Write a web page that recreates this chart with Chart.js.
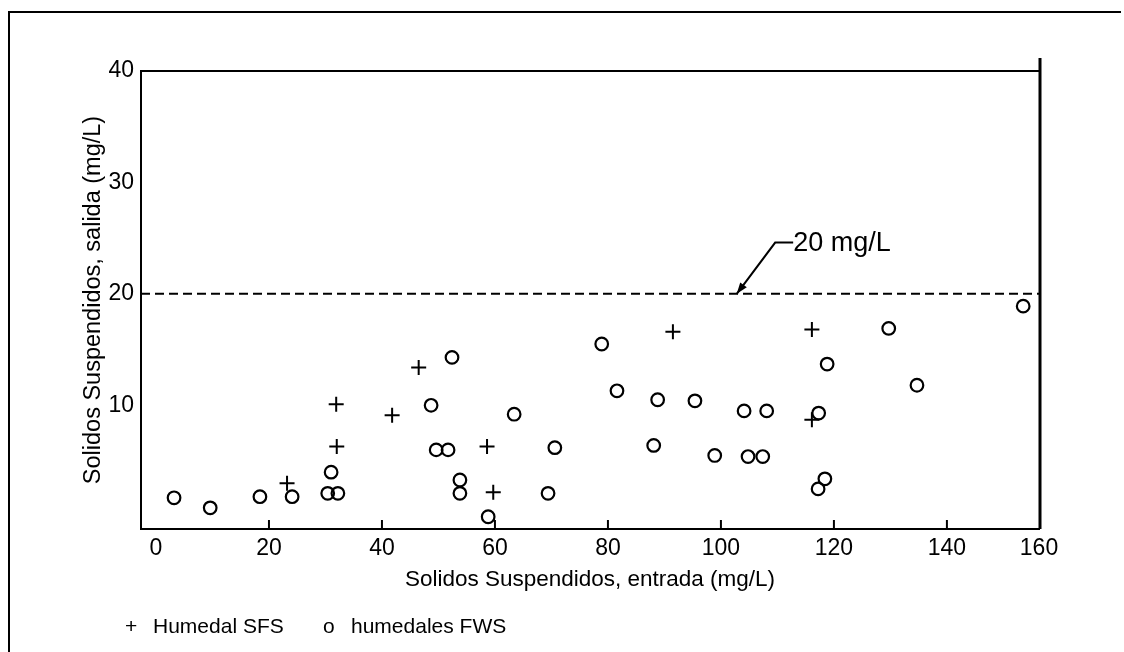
<!DOCTYPE html>
<html>
<head>
<meta charset="utf-8">
<script src="https://cdn.jsdelivr.net/npm/chart.js@4.4.1/dist/chart.umd.min.js"></script>
<style>
  html, body { margin: 0; padding: 0; background: #fff; }
  #wrap { width: 1124px; height: 652px; }
</style>
</head>
<body>
<div id="wrap"><canvas id="chart" width="1124" height="652"></canvas></div>
<script>
// Humedal SFS (cruces): entrada / salida, mg/L
const sfsIn  = [23.2, 31.9, 32.0, 41.8, 46.5, 58.6, 59.7, 91.5, 116.1, 116.1];
const sfsOut = [3.0, 10.1, 6.3, 9.1, 13.4, 6.3, 2.2, 16.6, 16.8, 8.7];

// humedales FWS (circulos)
const fwsIn  = [3.2, 9.6, 18.4, 24.1, 31.0, 30.4, 32.2, 52.4, 48.7, 49.6, 51.7, 53.8, 53.8,
                63.4, 58.8, 69.4, 70.6, 78.9, 81.6, 88.8, 88.1, 95.4, 98.9, 104.1, 104.8,
                107.4, 108.1, 118.8, 129.7, 134.7, 153.5, 117.3, 118.4, 117.2];
const fwsOut = [1.7, 0.8, 1.8, 1.8, 4.0, 2.1, 2.1, 14.3, 10.0, 6.0, 6.0, 3.3, 2.1,
                9.2, 0.0, 2.1, 6.2, 15.5, 11.3, 10.5, 6.4, 10.4, 5.5, 9.5, 5.4,
                5.4, 9.5, 13.7, 16.9, 11.8, 18.9, 9.3, 3.4, 2.5];

const xTickLabels = ['0', '20', '40', '60', '80', '100', '120', '140', '160'];
const yTickLabels = ['10', '20', '30', '40'];

const limitValue = 20;          // linea limite
const limitText = '20 mg/L';
const arrowTip = [102.8, 20];   // punta de la flecha (x, y en datos)
const labelAt = [109.6, 24.6];  // codo de la flecha / inicio del texto

const FONT = 'Liberation Sans, Arial, sans-serif';

const toXY = (xs, ys) => xs.map((x, i) => ({ x: x, y: ys[i] }));

const decor = {
    id: 'decor',
    afterDraw(chart) {
        const ctx = chart.ctx;
        const area = chart.chartArea;
        const sx = chart.scales.x, sy = chart.scales.y;
        ctx.save();
        ctx.strokeStyle = '#000';
        ctx.fillStyle = '#000';

        // outer frame (left + top)
        ctx.lineWidth = 2;
        ctx.beginPath();
        ctx.moveTo(9, 652);
        ctx.lineTo(9, 12);
        ctx.lineTo(1121, 12);
        ctx.stroke();

        // top of plot box
        ctx.beginPath();
        ctx.moveTo(area.left, area.top);
        ctx.lineTo(area.right, area.top);
        ctx.stroke();

        // right side, heavier
        ctx.lineWidth = 3;
        ctx.beginPath();
        ctx.moveTo(area.right + 1, area.top - 13);
        ctx.lineTo(area.right + 1, area.bottom);
        ctx.stroke();

        // inward tick marks on x axis
        ctx.lineWidth = 2;
        xTickLabels.slice(1, -1).forEach(t => {
            const px = sx.getPixelForValue(Number(t));
            ctx.beginPath();
            ctx.moveTo(px, area.bottom - 9);
            ctx.lineTo(px, area.bottom);
            ctx.stroke();
        });

        // dashed limit line
        const ly = sy.getPixelForValue(limitValue);
        ctx.setLineDash([9, 5]);
        ctx.beginPath();
        ctx.moveTo(area.left, ly);
        ctx.lineTo(area.right, ly);
        ctx.stroke();
        ctx.setLineDash([]);

        // arrow + label
        const tx = sx.getPixelForValue(arrowTip[0]), ty = sy.getPixelForValue(arrowTip[1]);
        const kx = sx.getPixelForValue(labelAt[0]), ky = sy.getPixelForValue(labelAt[1]);
        ctx.lineWidth = 2;
        ctx.beginPath();
        ctx.moveTo(kx + 18, ky);
        ctx.lineTo(kx, ky);
        ctx.lineTo(tx, ty);
        ctx.stroke();
        const ang = Math.atan2(ty - ky, tx - kx);
        ctx.beginPath();
        ctx.moveTo(tx, ty);
        ctx.lineTo(tx - 12 * Math.cos(ang - 0.35), ty - 12 * Math.sin(ang - 0.35));
        ctx.lineTo(tx - 12 * Math.cos(ang + 0.35), ty - 12 * Math.sin(ang + 0.35));
        ctx.closePath();
        ctx.fill();
        ctx.font = '27px ' + FONT;
        ctx.textBaseline = 'middle';
        ctx.textAlign = 'left';
        ctx.fillText(limitText, kx + 18, ky + 1);

        // legend
        ctx.font = '21px ' + FONT;
        const marks = ['+', 'o'];
        const xs = [125, 323];
        chart.data.datasets.forEach((ds, i) => {
            ctx.fillText(marks[i], xs[i], 627);
            ctx.fillText(ds.label, xs[i] + 28, 627);
        });
        ctx.restore();
    }
};

new Chart(document.getElementById('chart').getContext('2d'), {
    type: 'scatter',
    data: {
        datasets: [{
            label: 'Humedal SFS',
            data: toXY(sfsIn, sfsOut),
            pointStyle: 'cross',
            pointRadius: 7.5,
            borderWidth: 2,
            borderColor: '#000',
            backgroundColor: '#000'
        },
        {
            label: 'humedales FWS',
            data: toXY(fwsIn, fwsOut),
            pointStyle: 'circle',
            pointRadius: 6.3,
            borderWidth: 2.2,
            borderColor: '#000',
            backgroundColor: 'rgba(0,0,0,0)'
        }]
    },
    options: {
        responsive: false,
        animation: false,
        layout: { padding: { left: 0, top: 71, right: 85, bottom: 55 } },
        plugins: {
            legend: { display: false },
            tooltip: { enabled: false }
        },
        scales: {
            x: {
                type: 'linear',
                min: -2.65,
                max: 156.3,
                afterFit: s => { s.height = 68; },
                afterBuildTicks: s => {
                    s.ticks = xTickLabels.map(t => ({ value: Math.min(Number(t), s.max) }));
                },
                ticks: {
                    callback: (v, i) => xTickLabels[i],
                    autoSkip: false,
                    maxRotation: 0,
                    padding: 6,
                    color: '#000',
                    font: { family: FONT, size: 23 }
                },
                grid: { display: false, drawTicks: false },
                border: { display: true, color: '#000', width: 2 },
                title: {
                    display: true,
                    text: 'Solidos Suspendidos, entrada (mg/L)',
                    color: '#000',
                    font: { family: FONT, size: 22.5 },
                    padding: { top: 4, bottom: 4 }
                }
            },
            y: {
                min: -1.1,
                max: 40,
                afterFit: s => { s.width = 141; },
                afterBuildTicks: s => {
                    s.ticks = yTickLabels.map(t => ({ value: Number(t) }));
                },
                ticks: {
                    callback: (v, i) => yTickLabels[i],
                    padding: 7,
                    color: '#000',
                    font: { family: FONT, size: 23 }
                },
                grid: { display: false, drawTicks: false },
                border: { display: true, color: '#000', width: 2 },
                title: {
                    display: true,
                    text: 'Solidos Suspendidos, salida (mg/L)',
                    color: '#000',
                    font: { family: FONT, size: 23.5 },
                    padding: { top: 79, bottom: 0 }
                }
            }
        }
    },
    plugins: [decor]
});
</script>
</body>
</html>
